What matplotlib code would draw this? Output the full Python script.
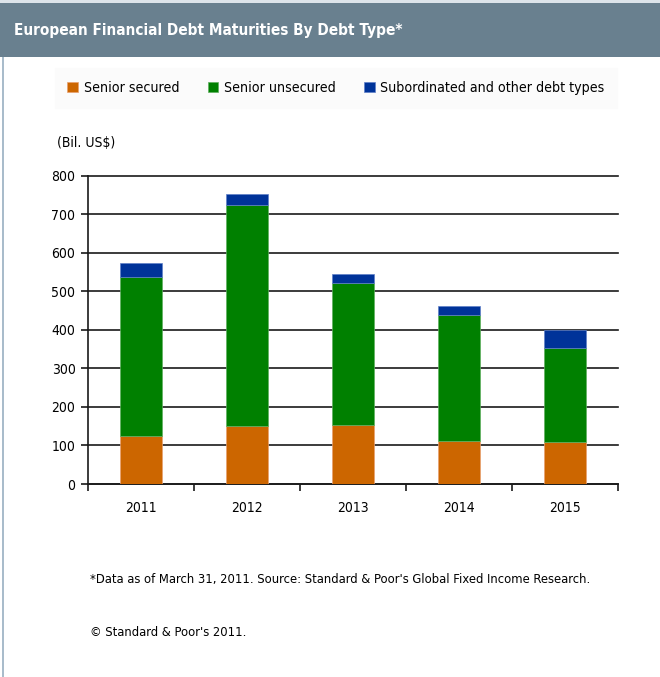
import matplotlib
matplotlib.use("Agg")
import matplotlib.pyplot as plt
import matplotlib.font_manager as fm
from matplotlib.patches import Rectangle
import numpy as np

# ---- data ----
years = ["2011", "2012", "2013", "2014", "2015"]
senior_secured = [125, 150, 152, 112, 108]
senior_unsecured = [411, 575, 369, 326, 244]
subordinated = [37, 28, 23, 25, 48]
series_labels = ["Senior secured", "Senior unsecured", "Subordinated and other debt types"]
y_ticks = [0, 100, 200, 300, 400, 500, 600, 700, 800]
title = "European Financial Debt Maturities By Debt Type*"
unit_label = "(Bil. US$)"
footnote = "*Data as of March 31, 2011. Source: Standard & Poor's Global Fixed Income Research."
copyright_note = "\u00a9 Standard & Poor's 2011."

# ---- fonts ----
names = {f.name for f in fm.fontManager.ttflist}
if "Liberation Sans Narrow" in names:
    FAM = "Liberation Sans Narrow"
    STRETCH = "normal"
else:
    FAM = "DejaVu Sans"
    STRETCH = "condensed"
plt.rcParams["font.family"] = [FAM, "DejaVu Sans"]
plt.rcParams["font.stretch"] = STRETCH

W, H = 660, 677
fig = plt.figure(figsize=(W / 100, H / 100), dpi=100)
fig.patch.set_facecolor("white")

def fx(px):
    return px / W

def fy(py):
    return 1 - py / H

# header bar
fig.patches.append(Rectangle((0, fy(3)), 1, 3 / H, transform=fig.transFigure,
                             facecolor="#dde4ea", edgecolor="none", zorder=0))
fig.patches.append(Rectangle((0, fy(57)), 1, 54 / H, transform=fig.transFigure,
                             facecolor="#69808f", edgecolor="none", zorder=0))
# left border
fig.patches.append(Rectangle((fx(2), 0), 2 / W, fy(57), transform=fig.transFigure,
                             facecolor="#a9bccb", edgecolor="none", zorder=0))
fig.text(fx(14), fy(30), title, color="white", fontsize=11, fontweight="bold",
         va="center", ha="left")

# axes
ax = fig.add_axes([fx(88), fy(484), (618 - 88) / W, (484 - 175.7) / H])
x = np.arange(len(years))
bw = 0.4
c_sec, c_uns, c_sub = "#cc6600", "#008000", "#003399"
b1 = ax.bar(x, senior_secured, bw, color=c_sec, edgecolor="#e8a070", linewidth=0.5,
            label=series_labels[0], zorder=3)
b2 = ax.bar(x, senior_unsecured, bw, bottom=senior_secured, color=c_uns,
            edgecolor="#60b060", linewidth=0.5, label=series_labels[1], zorder=3)
bottom3 = np.array(senior_secured) + np.array(senior_unsecured)
b3 = ax.bar(x, subordinated, bw, bottom=bottom3, color=c_sub, edgecolor="#6080c8",
            linewidth=0.5, label=series_labels[2], zorder=3)

ax.set_xlim(-0.5, len(years) - 0.5)
ax.set_ylim(y_ticks[0], y_ticks[-1])
ax.set_yticks(y_ticks)
ax.set_yticklabels([str(v) for v in y_ticks], fontsize=10)
ax.yaxis.grid(True, color="#1a1a1a", linewidth=1.2, zorder=1)
for gl in ax.get_ygridlines():
    gl.set_clip_on(False)
ax.set_axisbelow(True)
ax.set_xticks(x)
ax.set_xticklabels(years, fontsize=10)
ax.tick_params(axis="x", which="major", length=0, pad=12.5)
ax.set_xticks(np.arange(-0.5, len(years)), minor=True)
ax.tick_params(axis="x", which="minor", length=5, width=1.2, direction="out", color="#1a1a1a")
ax.tick_params(axis="y", length=5, width=1.2, direction="out", color="#1a1a1a", pad=4)
for s in ["top", "right"]:
    ax.spines[s].set_visible(False)
for s in ["left", "bottom"]:
    ax.spines[s].set_color("#1a1a1a")
    ax.spines[s].set_linewidth(1.2)
ax.set_facecolor("white")

fig.text(fx(57), fy(143), unit_label, fontsize=10, va="center", ha="left")

# legend
leg = fig.legend(handles=[b1, b2, b3], labels=series_labels, loc="center",
                 bbox_to_anchor=(fx(336), fy(88)), ncol=3, fontsize=10.2,
                 frameon=True, fancybox=False, handlelength=0.75, handleheight=0.75,
                 handletextpad=0.4, columnspacing=2.0, borderpad=0.9)
leg.get_frame().set_facecolor("#fbfbfb")
leg.get_frame().set_edgecolor("#fbfbfb")

# footer
fig.text(fx(90), fy(580), footnote, fontsize=9.3, va="center", ha="left")
fig.text(fx(90), fy(633), copyright_note, fontsize=9.3, va="center", ha="left")

fig.savefig("out.png", dpi=100, facecolor="white")
